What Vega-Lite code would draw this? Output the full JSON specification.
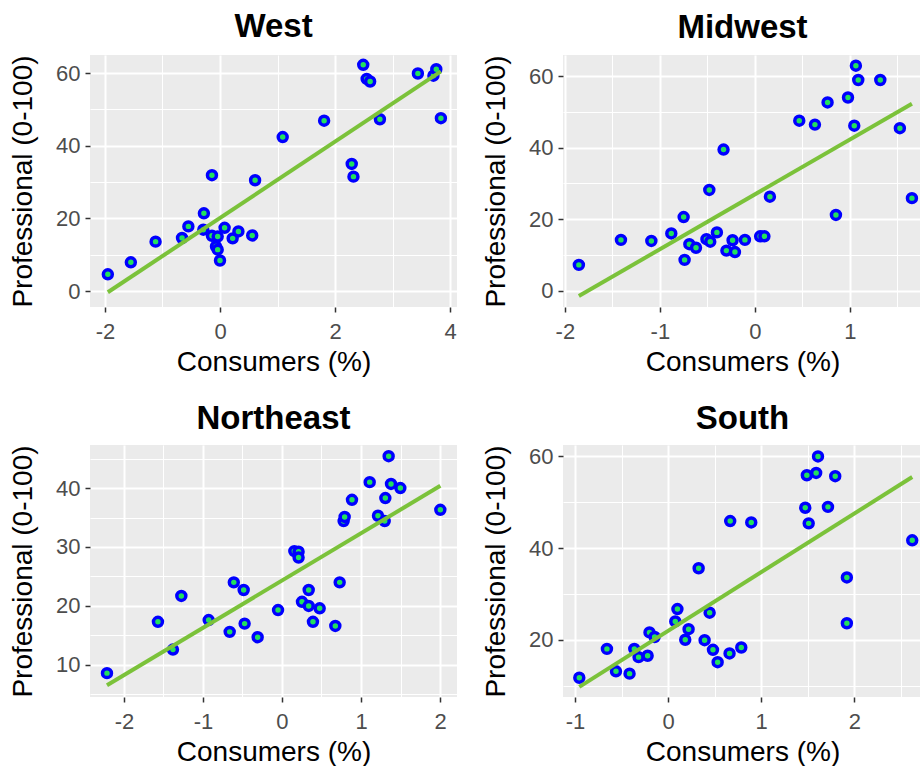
{
  "$schema": "https://vega.github.io/schema/vega-lite/v6.json",
  "background": "white",
  "padding": {"left": 9, "top": 11, "right": 0, "bottom": 0},
  "datasets": {
    "pts": [
      {"region": "West", "consumers": -1.95, "professional": 4.6},
      {"region": "West", "consumers": -1.55, "professional": 7.9},
      {"region": "West", "consumers": -1.12, "professional": 13.6},
      {"region": "West", "consumers": -0.66, "professional": 14.6},
      {"region": "West", "consumers": -0.55, "professional": 17.8},
      {"region": "West", "consumers": -0.28, "professional": 21.4},
      {"region": "West", "consumers": -0.29, "professional": 16.9},
      {"region": "West", "consumers": -0.14, "professional": 31.9},
      {"region": "West", "consumers": -0.14, "professional": 15.2},
      {"region": "West", "consumers": -0.04, "professional": 15.0},
      {"region": "West", "consumers": -0.07, "professional": 12.3},
      {"region": "West", "consumers": -0.04, "professional": 11.4},
      {"region": "West", "consumers": 0.0, "professional": 8.4},
      {"region": "West", "consumers": 0.08, "professional": 17.4},
      {"region": "West", "consumers": 0.22, "professional": 14.5},
      {"region": "West", "consumers": 0.32, "professional": 16.4},
      {"region": "West", "consumers": 0.56, "professional": 15.3},
      {"region": "West", "consumers": 0.61, "professional": 30.5},
      {"region": "West", "consumers": 1.09, "professional": 42.4},
      {"region": "West", "consumers": 1.81, "professional": 46.9},
      {"region": "West", "consumers": 2.29, "professional": 35.0},
      {"region": "West", "consumers": 2.32, "professional": 31.5},
      {"region": "West", "consumers": 2.49, "professional": 62.3},
      {"region": "West", "consumers": 2.55, "professional": 58.4},
      {"region": "West", "consumers": 2.61, "professional": 57.7},
      {"region": "West", "consumers": 2.78, "professional": 47.3},
      {"region": "West", "consumers": 3.44, "professional": 59.9},
      {"region": "West", "consumers": 3.71, "professional": 59.3},
      {"region": "West", "consumers": 3.76, "professional": 61.1},
      {"region": "West", "consumers": 3.84, "professional": 47.6},

      {"region": "Midwest", "consumers": -1.853, "professional": 7.2},
      {"region": "Midwest", "consumers": -1.41, "professional": 14.2},
      {"region": "Midwest", "consumers": -1.09, "professional": 13.9},
      {"region": "Midwest", "consumers": -0.88, "professional": 16.0},
      {"region": "Midwest", "consumers": -0.75, "professional": 20.6},
      {"region": "Midwest", "consumers": -0.74, "professional": 8.6},
      {"region": "Midwest", "consumers": -0.69, "professional": 13.0},
      {"region": "Midwest", "consumers": -0.62, "professional": 12.0},
      {"region": "Midwest", "consumers": -0.51, "professional": 14.4},
      {"region": "Midwest", "consumers": -0.47, "professional": 13.7},
      {"region": "Midwest", "consumers": -0.48, "professional": 28.2},
      {"region": "Midwest", "consumers": -0.40, "professional": 16.3},
      {"region": "Midwest", "consumers": -0.33, "professional": 39.5},
      {"region": "Midwest", "consumers": -0.30, "professional": 11.2},
      {"region": "Midwest", "consumers": -0.235, "professional": 14.1},
      {"region": "Midwest", "consumers": -0.21, "professional": 10.8},
      {"region": "Midwest", "consumers": -0.105, "professional": 14.2},
      {"region": "Midwest", "consumers": 0.055, "professional": 15.2},
      {"region": "Midwest", "consumers": 0.10, "professional": 15.2},
      {"region": "Midwest", "consumers": 0.158, "professional": 26.3},
      {"region": "Midwest", "consumers": 0.467, "professional": 47.6},
      {"region": "Midwest", "consumers": 0.632, "professional": 46.5},
      {"region": "Midwest", "consumers": 0.765, "professional": 52.7},
      {"region": "Midwest", "consumers": 0.853, "professional": 21.2},
      {"region": "Midwest", "consumers": 0.98, "professional": 54.1},
      {"region": "Midwest", "consumers": 1.046, "professional": 46.2},
      {"region": "Midwest", "consumers": 1.063, "professional": 63.0},
      {"region": "Midwest", "consumers": 1.088, "professional": 59.0},
      {"region": "Midwest", "consumers": 1.32, "professional": 59.0},
      {"region": "Midwest", "consumers": 1.526, "professional": 45.5},
      {"region": "Midwest", "consumers": 1.653, "professional": 25.9},

      {"region": "Northeast", "consumers": -2.215, "professional": 8.6},
      {"region": "Northeast", "consumers": -1.57, "professional": 17.3},
      {"region": "Northeast", "consumers": -1.38, "professional": 12.6},
      {"region": "Northeast", "consumers": -1.274, "professional": 21.7},
      {"region": "Northeast", "consumers": -0.928, "professional": 17.6},
      {"region": "Northeast", "consumers": -0.662, "professional": 15.6},
      {"region": "Northeast", "consumers": -0.61, "professional": 24.0},
      {"region": "Northeast", "consumers": -0.485, "professional": 22.7},
      {"region": "Northeast", "consumers": -0.473, "professional": 17.0},
      {"region": "Northeast", "consumers": -0.308, "professional": 14.7},
      {"region": "Northeast", "consumers": -0.05, "professional": 19.3},
      {"region": "Northeast", "consumers": 0.156, "professional": 29.3},
      {"region": "Northeast", "consumers": 0.21, "professional": 29.2},
      {"region": "Northeast", "consumers": 0.21, "professional": 28.2},
      {"region": "Northeast", "consumers": 0.253, "professional": 20.7},
      {"region": "Northeast", "consumers": 0.338, "professional": 22.7},
      {"region": "Northeast", "consumers": 0.338, "professional": 20.0},
      {"region": "Northeast", "consumers": 0.392, "professional": 17.3},
      {"region": "Northeast", "consumers": 0.477, "professional": 19.6},
      {"region": "Northeast", "consumers": 0.675, "professional": 16.6},
      {"region": "Northeast", "consumers": 0.73, "professional": 24.0},
      {"region": "Northeast", "consumers": 0.78, "professional": 34.4},
      {"region": "Northeast", "consumers": 0.793, "professional": 35.1},
      {"region": "Northeast", "consumers": 0.886, "professional": 38.0},
      {"region": "Northeast", "consumers": 1.11, "professional": 41.0},
      {"region": "Northeast", "consumers": 1.215, "professional": 35.3},
      {"region": "Northeast", "consumers": 1.30, "professional": 34.4},
      {"region": "Northeast", "consumers": 1.308, "professional": 38.3},
      {"region": "Northeast", "consumers": 1.35, "professional": 45.4},
      {"region": "Northeast", "consumers": 1.38, "professional": 40.7},
      {"region": "Northeast", "consumers": 1.498, "professional": 40.0},
      {"region": "Northeast", "consumers": 2.004, "professional": 36.3},

      {"region": "South", "consumers": -0.954, "professional": 11.7},
      {"region": "South", "consumers": -0.657, "professional": 18.0},
      {"region": "South", "consumers": -0.56, "professional": 13.1},
      {"region": "South", "consumers": -0.414, "professional": 12.6},
      {"region": "South", "consumers": -0.363, "professional": 18.0},
      {"region": "South", "consumers": -0.317, "professional": 16.2},
      {"region": "South", "consumers": -0.22, "professional": 16.5},
      {"region": "South", "consumers": -0.20, "professional": 21.6},
      {"region": "South", "consumers": -0.145, "professional": 20.6},
      {"region": "South", "consumers": 0.077, "professional": 24.0},
      {"region": "South", "consumers": 0.10, "professional": 26.7},
      {"region": "South", "consumers": 0.184, "professional": 20.0},
      {"region": "South", "consumers": 0.22, "professional": 22.3},
      {"region": "South", "consumers": 0.328, "professional": 35.6},
      {"region": "South", "consumers": 0.392, "professional": 19.9},
      {"region": "South", "consumers": 0.446, "professional": 25.9},
      {"region": "South", "consumers": 0.482, "professional": 17.8},
      {"region": "South", "consumers": 0.532, "professional": 15.1},
      {"region": "South", "consumers": 0.66, "professional": 17.0},
      {"region": "South", "consumers": 0.667, "professional": 45.9},
      {"region": "South", "consumers": 0.786, "professional": 18.3},
      {"region": "South", "consumers": 0.893, "professional": 45.6},
      {"region": "South", "consumers": 1.473, "professional": 48.8},
      {"region": "South", "consumers": 1.49, "professional": 55.9},
      {"region": "South", "consumers": 1.51, "professional": 45.4},
      {"region": "South", "consumers": 1.59, "professional": 56.4},
      {"region": "South", "consumers": 1.61, "professional": 60.0},
      {"region": "South", "consumers": 1.717, "professional": 49.0},
      {"region": "South", "consumers": 1.795, "professional": 55.7},
      {"region": "South", "consumers": 1.92, "professional": 33.6},
      {"region": "South", "consumers": 1.92, "professional": 23.6},
      {"region": "South", "consumers": 2.622, "professional": 41.7}
    ]
  },
  "data": {"name": "pts"},
  "columns": 2,
  "spacing": {"row": 26, "column": 25},
  "concat": [
    {
      "width": 367, "height": 252,
      "title": {"text": "West"},
      "transform": [{"filter": "datum.region === 'West'"}],
      "resolve": {"axis": {"x": "independent", "y": "independent"}},
      "layer": [
        {
          "mark": {"type": "circle", "opacity": 0},
          "encoding": {
            "x": {"field": "consumers", "type": "quantitative", "scale": {"domain": [-2.26, 4.12], "nice": false, "zero": false},
                  "axis": {"orient": "bottom", "values": [-1, 1, 3], "grid": true, "gridWidth": 1, "labels": false, "ticks": false, "domain": false, "title": null}},
            "y": {"field": "professional", "type": "quantitative", "scale": {"domain": [-4.4, 65.0], "nice": false, "zero": false},
                  "axis": {"orient": "left", "values": [10, 30, 50], "grid": true, "gridWidth": 1, "labels": false, "ticks": false, "domain": false, "title": null}}
          }
        },
        {
          "mark": {"type": "circle", "size": 80, "fill": "#22E05E", "stroke": "#0000FF", "strokeWidth": 3.5, "opacity": 1},
          "encoding": {
            "x": {"field": "consumers", "type": "quantitative", "scale": {"domain": [-2.26, 4.12], "nice": false, "zero": false},
                  "axis": {"orient": "bottom", "values": [-2, 0, 2, 4], "grid": true, "gridWidth": 2, "title": "Consumers (%)", "labelExpr": "'' + datum.value"}},
            "y": {"field": "professional", "type": "quantitative", "scale": {"domain": [-4.4, 65.0], "nice": false, "zero": false},
                  "axis": {"orient": "left", "values": [0, 20, 40, 60], "grid": true, "gridWidth": 2, "title": "Professional (0-100)", "labelExpr": "'' + datum.value"}}
          }
        },
        {
          "transform": [{"regression": "professional", "on": "consumers"}],
          "mark": {"type": "line", "color": "#7BC23A", "strokeWidth": 4},
          "encoding": {
            "x": {"field": "consumers", "type": "quantitative", "scale": {"domain": [-2.26, 4.12], "nice": false, "zero": false}, "axis": null},
            "y": {"field": "professional", "type": "quantitative", "scale": {"domain": [-4.4, 65.0], "nice": false, "zero": false}, "axis": null}
          }
        }
      ]
    },
    {
      "width": 359, "height": 252,
      "title": {"text": "Midwest"},
      "transform": [{"filter": "datum.region === 'Midwest'"}],
      "resolve": {"axis": {"x": "independent", "y": "independent"}},
      "layer": [
        {
          "mark": {"type": "circle", "opacity": 0},
          "encoding": {
            "x": {"field": "consumers", "type": "quantitative", "scale": {"domain": [-2.02, 1.759], "nice": false, "zero": false},
                  "axis": {"orient": "bottom", "values": [-1.5, -0.5, 0.5, 1.5], "grid": true, "gridWidth": 1, "labels": false, "ticks": false, "domain": false, "title": null}},
            "y": {"field": "professional", "type": "quantitative", "scale": {"domain": [-4.6, 66.0], "nice": false, "zero": false},
                  "axis": {"orient": "left", "values": [10, 30, 50], "grid": true, "gridWidth": 1, "labels": false, "ticks": false, "domain": false, "title": null}}
          }
        },
        {
          "mark": {"type": "circle", "size": 80, "fill": "#22E05E", "stroke": "#0000FF", "strokeWidth": 3.5, "opacity": 1},
          "encoding": {
            "x": {"field": "consumers", "type": "quantitative", "scale": {"domain": [-2.02, 1.759], "nice": false, "zero": false},
                  "axis": {"orient": "bottom", "values": [-2, -1, 0, 1], "grid": true, "gridWidth": 2, "title": "Consumers (%)", "labelExpr": "'' + datum.value"}},
            "y": {"field": "professional", "type": "quantitative", "scale": {"domain": [-4.6, 66.0], "nice": false, "zero": false},
                  "axis": {"orient": "left", "values": [0, 20, 40, 60], "grid": true, "gridWidth": 2, "title": "Professional (0-100)", "labelExpr": "'' + datum.value"}}
          }
        },
        {
          "transform": [{"regression": "professional", "on": "consumers"}],
          "mark": {"type": "line", "color": "#7BC23A", "strokeWidth": 4},
          "encoding": {
            "x": {"field": "consumers", "type": "quantitative", "scale": {"domain": [-2.02, 1.759], "nice": false, "zero": false}, "axis": null},
            "y": {"field": "professional", "type": "quantitative", "scale": {"domain": [-4.6, 66.0], "nice": false, "zero": false}, "axis": null}
          }
        }
      ]
    },
    {
      "width": 367, "height": 252,
      "title": {"text": "Northeast"},
      "transform": [{"filter": "datum.region === 'Northeast'"}],
      "resolve": {"axis": {"x": "independent", "y": "independent"}},
      "layer": [
        {
          "mark": {"type": "circle", "opacity": 0},
          "encoding": {
            "x": {"field": "consumers", "type": "quantitative", "scale": {"domain": [-2.43, 2.215], "nice": false, "zero": false},
                  "axis": {"orient": "bottom", "values": [-1.5, -0.5, 0.5, 1.5], "grid": true, "gridWidth": 1, "labels": false, "ticks": false, "domain": false, "title": null}},
            "y": {"field": "professional", "type": "quantitative", "scale": {"domain": [4.55, 47.3], "nice": false, "zero": false},
                  "axis": {"orient": "left", "values": [5, 15, 25, 35, 45], "grid": true, "gridWidth": 1, "labels": false, "ticks": false, "domain": false, "title": null}}
          }
        },
        {
          "mark": {"type": "circle", "size": 80, "fill": "#22E05E", "stroke": "#0000FF", "strokeWidth": 3.5, "opacity": 1},
          "encoding": {
            "x": {"field": "consumers", "type": "quantitative", "scale": {"domain": [-2.43, 2.215], "nice": false, "zero": false},
                  "axis": {"orient": "bottom", "values": [-2, -1, 0, 1, 2], "grid": true, "gridWidth": 2, "title": "Consumers (%)", "labelExpr": "'' + datum.value"}},
            "y": {"field": "professional", "type": "quantitative", "scale": {"domain": [4.55, 47.3], "nice": false, "zero": false},
                  "axis": {"orient": "left", "values": [10, 20, 30, 40], "grid": true, "gridWidth": 2, "title": "Professional (0-100)", "labelExpr": "'' + datum.value"}}
          }
        },
        {
          "transform": [{"regression": "professional", "on": "consumers"}],
          "mark": {"type": "line", "color": "#7BC23A", "strokeWidth": 4},
          "encoding": {
            "x": {"field": "consumers", "type": "quantitative", "scale": {"domain": [-2.43, 2.215], "nice": false, "zero": false}, "axis": null},
            "y": {"field": "professional", "type": "quantitative", "scale": {"domain": [4.55, 47.3], "nice": false, "zero": false}, "axis": null}
          }
        }
      ]
    },
    {
      "width": 359, "height": 252,
      "title": {"text": "South"},
      "transform": [{"filter": "datum.region === 'South'"}],
      "resolve": {"axis": {"x": "independent", "y": "independent"}},
      "layer": [
        {
          "mark": {"type": "circle", "opacity": 0},
          "encoding": {
            "x": {"field": "consumers", "type": "quantitative", "scale": {"domain": [-1.129, 2.727], "nice": false, "zero": false},
                  "axis": {"orient": "bottom", "values": [-0.5, 0.5, 1.5, 2.5], "grid": true, "gridWidth": 1, "labels": false, "ticks": false, "domain": false, "title": null}},
            "y": {"field": "professional", "type": "quantitative", "scale": {"domain": [7.5, 62.5], "nice": false, "zero": false},
                  "axis": {"orient": "left", "values": [10, 30, 50], "grid": true, "gridWidth": 1, "labels": false, "ticks": false, "domain": false, "title": null}}
          }
        },
        {
          "mark": {"type": "circle", "size": 80, "fill": "#22E05E", "stroke": "#0000FF", "strokeWidth": 3.5, "opacity": 1},
          "encoding": {
            "x": {"field": "consumers", "type": "quantitative", "scale": {"domain": [-1.129, 2.727], "nice": false, "zero": false},
                  "axis": {"orient": "bottom", "values": [-1, 0, 1, 2], "grid": true, "gridWidth": 2, "title": "Consumers (%)", "labelExpr": "'' + datum.value"}},
            "y": {"field": "professional", "type": "quantitative", "scale": {"domain": [7.5, 62.5], "nice": false, "zero": false},
                  "axis": {"orient": "left", "values": [20, 40, 60], "grid": true, "gridWidth": 2, "title": "Professional (0-100)", "labelExpr": "'' + datum.value"}}
          }
        },
        {
          "transform": [{"regression": "professional", "on": "consumers"}],
          "mark": {"type": "line", "color": "#7BC23A", "strokeWidth": 4},
          "encoding": {
            "x": {"field": "consumers", "type": "quantitative", "scale": {"domain": [-1.129, 2.727], "nice": false, "zero": false}, "axis": null},
            "y": {"field": "professional", "type": "quantitative", "scale": {"domain": [7.5, 62.5], "nice": false, "zero": false}, "axis": null}
          }
        }
      ]
    }
  ],
  "config": {
    "view": {"fill": "#EBEBEB", "stroke": null},
    "font": "Liberation Sans",
    "title": {"font": "Liberation Sans", "fontSize": 33, "fontWeight": "bold", "color": "#000000", "anchor": "middle", "frame": "group", "baseline": "alphabetic", "offset": 9},
    "axis": {
      "labelFont": "Liberation Sans", "labelFontSize": 22, "labelColor": "#4D4D4D",
      "titleFont": "Liberation Sans", "titleFontSize": 28, "titleFontWeight": "normal", "titleColor": "#000000",
      "tickColor": "#333333", "tickSize": 5, "tickWidth": 1.5, "domain": false,
      "gridColor": "#FFFFFF", "labelFlush": false, "labelOverlap": false
    },
    "axisX": {"labelPadding": 9, "titlePadding": 6},
    "axisY": {"labelPadding": 5, "titlePadding": 18}
  }
}
